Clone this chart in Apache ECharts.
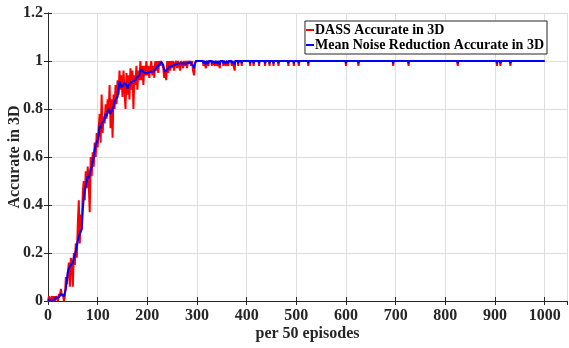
<!DOCTYPE html>
<html><head><meta charset="utf-8">
<script src="https://cdn.jsdelivr.net/npm/echarts@6/dist/echarts.min.js"></script>
<style>html,body{margin:0;padding:0;background:#fff}#c{width:569px;height:348px}</style>
</head><body><div id="c"></div>
<script>
// episode step for the early (learning) phase samples
var earlyStep = 2;
// DASS accuracy, x = 0,2,4,...,298
var redEarly = [0,0.02,0,0.01,0.02,0,0.02,0,0.02,0.01,0,0.03,0.02,0.05,0.02,0.03,0,0.02,
0.1,0.07,0.12,0.16,0.06,0.18,0.14,0.06,0.2,0.15,0.24,0.18,0.32,0.42,0.24,0.36,0.3,0.45,0.5,0.42,0.54,0.47,
0.56,0.49,0.37,0.6,0.52,0.62,0.56,0.66,0.6,0.7,0.64,0.72,0.78,0.66,0.86,0.7,0.77,0.74,0.82,0.76,
0.84,0.78,0.9,0.72,0.84,0.68,0.86,0.8,0.9,0.82,0.92,0.86,0.96,0.88,0.94,0.85,0.96,0.88,0.8,0.95,
0.86,0.94,0.84,0.97,0.88,0.96,0.8,0.94,0.9,0.98,0.88,0.96,0.92,1.0,0.92,0.98,0.9,0.98,0.94,1.0,
0.94,0.98,0.93,0.97,1.0,0.94,0.98,0.93,1.0,0.96,1.0,0.95,1.0,0.98,1.0,1.0,0.97,0.93,0.96,0.92,
1.0,0.95,1.0,0.96,1.0,0.97,1.0,0.96,0.99,1.0,0.97,1.0,0.98,0.96,1.0,0.99,0.97,1.0,0.98,1.0,
0.97,1.0,0.99,1.0,0.98,1.0,0.96,0.94,0.99,1.0];
// Mean noise reduction accuracy, x = 0,2,4,...,298
var blueEarly = [0.005,0.005,0.01,0.005,0.01,0.01,0.005,0.01,0.015,0.01,0.01,0.015,0.02,0.03,0.025,0.03,0.02,0.015,
0.05,0.09,0.12,0.135,0.14,0.15,0.155,0.16,0.18,0.19,0.21,0.23,0.25,0.27,0.28,0.28,0.3,0.38,0.43,0.46,0.48,0.5,
0.52,0.51,0.53,0.55,0.56,0.58,0.6,0.63,0.65,0.66,0.67,0.69,0.73,0.72,0.74,0.735,0.75,0.76,0.78,0.77,
0.79,0.8,0.8,0.78,0.79,0.785,0.81,0.83,0.84,0.845,0.85,0.88,0.915,0.905,0.89,0.885,0.9,0.91,0.905,0.9,
0.885,0.89,0.905,0.91,0.905,0.915,0.92,0.915,0.92,0.93,0.935,0.935,0.94,0.955,0.965,0.97,0.96,0.95,0.945,0.95,
0.95,0.955,0.95,0.955,0.96,0.955,0.955,0.96,0.965,0.97,0.975,0.98,0.985,0.99,0.995,0.995,0.985,0.965,0.955,0.96,
0.965,0.97,0.975,0.97,0.975,0.98,0.985,0.98,0.985,0.99,0.985,0.99,0.99,0.985,0.99,0.99,0.985,0.99,0.99,0.985,
0.99,0.995,0.99,0.995,0.99,0.995,0.98,0.97,0.99,1.0];
// converged phase: episodes where accuracy dips below 1
var dipX =     [313,318,323,330,336,341,346,353,358,363,370,376,383,390,407,414,425,437,446,454,464,484,495,505,524,600,625,695,726,825,904,911,931];
var redDipY =  [0.98,0.97,0.98,0.98,0.98,0.98,0.97,0.98,0.98,0.98,0.98,0.96,0.98,0.98,0.98,0.98,0.98,0.98,0.98,0.98,0.98,0.98,0.98,0.98,0.98,0.98,0.98,0.98,0.98,0.98,0.98,0.98,0.98];
var blueDipY = [0.99,0.985,0.99,0.99,0.99,0.99,0.985,0.99,0.99,0.99,0.99,0.985,0.99,0.99,0.99,0.99,0.99,0.99,0.99,0.99,0.99,0.99,0.99,0.99,0.99,0.99,0.99,0.99,0.99,0.99,0.99,0.99,0.99];
var convergedValue = 1;
var lastEpisode = 1000;
var xTicks = [0,100,200,300,400,500,600,700,800,900,1000];
var yTicks = [0,0.2,0.4,0.6,0.8,1,1.2];

function build(early, dipY){
  var d = [];
  for (var i=0;i<early.length;i++) d.push([i*earlyStep, early[i]]);
  d.push([early.length*earlyStep, convergedValue]);
  for (var j=0;j<dipX.length;j++){
    d.push([dipX[j]-1, convergedValue]);
    d.push([dipX[j], dipY[j]]);
    d.push([dipX[j]+1, convergedValue]);
  }
  d.push([lastEpisode, convergedValue]);
  return d;
}

var F = 'Liberation Serif';
var chart = echarts.init(document.getElementById('c'));
var axLine = {show:true,lineStyle:{color:'#262626',width:1}};
var axTick = {show:true,inside:true,length:4,lineStyle:{color:'#262626'}};
chart.setOption({
  animation:false,
  grid:{left:48,right:2,top:13,bottom:47,outerBoundsMode:'none',containLabel:false},
  legend:{
    top:21,right:22,orient:'vertical',
    backgroundColor:'#fff',borderColor:'#262626',borderWidth:1,
    padding:[2,3,2,1],itemGap:1,itemWidth:8,itemHeight:2,icon:'rect',
    textStyle:{fontFamily:F,fontWeight:'bold',fontSize:14,color:'#000',padding:[0,0,0,-4]},
    data:['DASS Accurate in 3D','Mean Noise Reduction Accurate in 3D']
  },
  xAxis:[{
    type:'value',min:0,max:1045,interval:100,position:'bottom',
    name:'per 50 episodes',nameLocation:'middle',nameGap:25,nameMoveOverlap:false,
    nameTextStyle:{fontFamily:F,fontWeight:'bold',fontSize:16,color:'#262626'},
    axisLine:axLine,axisTick:axTick,
    axisLabel:{fontFamily:F,fontWeight:'bold',fontSize:16,color:'#262626',margin:7,showMaxLabel:false,
      formatter:function(v){return xTicks.indexOf(v)>=0?String(v):'';}},
    splitLine:{show:true,lineStyle:{color:'#dedede',width:1}}
  },{
    type:'value',min:0,max:1045,interval:100,position:'top',
    axisLine:axLine,axisTick:axTick,axisLabel:{show:false},splitLine:{show:false}
  }],
  yAxis:[{
    type:'value',min:0,max:1.2,interval:0.2,
    name:'Accurate in 3D',nameLocation:'middle',nameGap:25,nameMoveOverlap:false,
    nameTextStyle:{fontFamily:F,fontWeight:'bold',fontSize:16,color:'#262626'},
    axisLine:axLine,axisTick:axTick,
    axisLabel:{fontFamily:F,fontWeight:'bold',fontSize:16,color:'#262626',margin:5,
      formatter:function(v){var r=Math.round(v*10)/10;return yTicks.indexOf(r)>=0?String(r):'';}},
    splitLine:{show:true,lineStyle:{color:'#dedede',width:1}}
  },{
    type:'value',min:0,max:1.2,interval:0.2,position:'right',
    axisLine:axLine,axisTick:axTick,axisLabel:{show:false},splitLine:{show:false}
  }],
  series:[{
    name:'DASS Accurate in 3D',type:'line',showSymbol:false,symbol:'none',
    data:build(redEarly, redDipY),
    lineStyle:{color:'#ff0000',width:2},itemStyle:{color:'#ff0000'}
  },{
    name:'Mean Noise Reduction Accurate in 3D',type:'line',showSymbol:false,symbol:'none',
    data:build(blueEarly, blueDipY),
    lineStyle:{color:'#0000ff',width:2},itemStyle:{color:'#0000ff'}
  }]
});
</script></body></html>
